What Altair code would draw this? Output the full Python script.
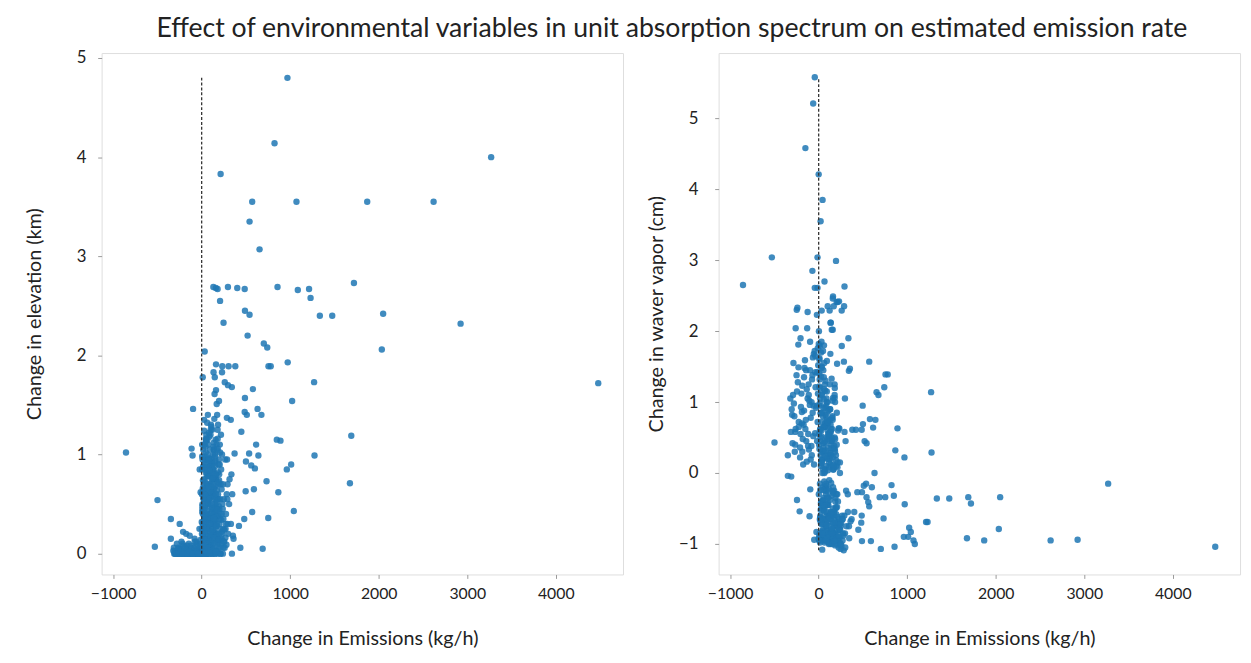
import altair as alt
import pandas as pd

# ---- points with larger emission changes ----
far_x = [4480, 3270, 2925, 2620, 2050, 2035, 1870, 1720, 1690, 1675,
         1475, 1335, 1270, 1275, 1213, 1230, 1086, 1071, 1041, 1022,
         1011, 969, 972, 962, 890, 866, 857, 849, 823, 780,
         755, 752, 741, 733, 702, 689, 675, 654, 641, 631,
         615, 601, 590, 579, 571, 571, 560, 541, 541, 536,
         519, 510, 500, 497, 489, 489, 486, 486, 481, 448,
         437, 421, 402, 380, 372, 353, 342, 341, 336, 329,
         310, 304, 297, 297, 292, 292, 287, 285, 283]
far_elev = [1.72, 4.00, 2.32, 3.55, 2.42, 2.06, 3.55, 2.73, 1.19, 0.71,
            2.40, 2.40, 1.73, 0.99, 2.67, 2.58, 2.66, 3.55, 0.43, 1.54,
            0.90, 4.80, 1.93, 0.85, 1.14, 0.62, 2.69, 1.15, 4.14, 1.89,
            1.89, 0.36, 2.08, 0.73, 2.12, 0.05, 1.40, 3.07, 0.99, 1.46,
            1.10, 0.86, 0.65, 1.66, 3.55, 0.42, 0.89, 3.35, 2.41, 1.01,
            2.20, 1.40, 0.93, 0.63, 2.45, 1.57, 2.67, 1.43, 0.35, 1.23,
            0.06, 0.28, 2.68, 1.89, 1.01, 0.18, 0.00, 1.68, 0.80, 1.35,
            0.50, 1.89, 2.69, 1.70, 0.70, 0.30, 0.95, 1.37, 0.60]
far_wv = [-1.04, -0.15, -0.94, -0.95, -0.34, -0.79, -0.95, -0.43, -0.34, -0.92,
          -0.36, -0.36, 1.14, 0.29, -0.69, -0.69, -1.00, -0.95, -0.83, -0.77,
          -0.90, 0.22, -0.44, -0.90, 0.63, 0.32, -1.04, -0.32, -0.17, 1.39,
          1.39, -0.34, 1.21, -0.64, -1.07, -0.34, 1.10, 1.14, 0.75, 0.00,
          0.64, -0.20, -0.96, 0.76, 1.57, -0.47, -0.41, 0.42, -0.34, -0.15,
          0.45, -0.18, 0.69, 0.95, -0.96, -0.27, 0.61, -0.60, -0.70, -0.80,
          -0.27, 0.61, -0.55, 0.61, -0.65, 1.47, -0.75, 1.44, 1.90, -0.30,
          -0.25, 0.45, 1.05, -0.85, 0.58, 2.63, 2.35, 1.57, -1.09]

# ---- points near the zero line and the negative side ----
mid_x = [261, 247, 233, 230, 214, 208, 180, 162, 162, 160,
         148, 146, 134, 132, 34, 12, 170, 196, 260, -97,
         -114, -103, -855, -529, -499, -348, -348, -314, -248, -228,
         -150, -62, -44, 0, 44, 22, -13, 93, -71, 66,
         -44, -13, 102, 124, 137, 159, 181, 203, 225, 49]
mid_elev = [1.73, 2.33, 1.89, 1.83, 3.83, 2.55, 2.67, 1.91, 1.65, 2.68,
            1.78, 1.61, 1.83, 2.69, 2.04, 1.78, 1.51, 1.54, 0.06, 1.46,
            1.06, 0.99, 1.02, 0.07, 0.54, 0.35, 0.15, 0.06, 0.30, 0.12,
            0.00, 0.00, 0.00, 0.05, 0.30, 0.20, 0.10, 0.80, 0.00, 0.40,
            0.02, 0.00, 1.25, 0.90, 1.05, 0.75, 0.55, 0.35, 0.65, 1.15]
mid_wv = [1.79, -1.07, 0.63, 2.42, 2.41, 1.54, 1.25, 2.49, 1.06, 2.46,
          2.02, 1.33, 2.12, 1.68, 2.29, 1.79, 2.35, 2.99, 2.29, 1.85,
          1.25, -0.61, 2.65, 3.04, 0.43, 0.25, -0.04, 0.58, 2.30, 1.49,
          4.58, 5.21, 5.58, 4.21, 3.85, 3.55, 3.04, 1.58, 2.85, 2.70,
          2.61, 2.61, 2.35, 2.29, 2.12, 2.02, 1.06, 2.41, 0.63, 1.72]

# ---- dense cluster close to zero emission change ----
dense_x = [5, 12, 18, 25, 30, 38, 45, 52, 60, 68,
           75, 82, 90, 98, 105, 112, 120, 128, 135, 142,
           150, 158, 165, 172, 180, 188, 195, 205, 215, 225,
           8, 15, 22, 28, 35, 42, 50, 58, 65, 72,
           80, 88, 95, 102, 110, 118, 125, 132, 140, 148,
           155, 162, 170, 178, 185, 192, 200, 210, 220, 235,
           3, 10, 20, 27, 33, 40, 48, 55, 62, 70,
           78, 85, 92, 100, 108, 115, 122, 130, 138, 145,
           2, 6, 14, 24, 32, 44, 56, 64, 76, 86,
           96, 106, 116, 126, 136, 146, 160, 175, 190, 245,
           250, 265, 270, 240, 230, 218, 205, 198, 185, 175,
           4, 9, 16, 21, 29, 36, 47, 59, 73, 84,
           -310, -290, -275, -260, -245, -230, -215, -200, -185, -170,
           -155, -140, -125, -110, -95, -80, -65, -50, -35, -20,
           -300, -270, -240, -205, -175, -130, -90, -55, -25, -8,
           0, 20, 40, 60, 90, 120, 150, 180, 210, 240]
dense_elev = [0.85, 0.30, 1.05, 0.55, 0.12, 0.95, 0.40, 1.20, 0.70, 0.25,
              1.10, 0.60, 0.35, 0.90, 1.30, 0.45, 0.75, 1.00, 0.20, 0.65,
              0.50, 1.15, 0.80, 0.30, 1.25, 0.55, 0.95, 0.40, 0.70, 0.15,
              0.45, 0.15, 0.70, 1.35, 0.25, 0.60, 0.90, 0.10, 1.15, 0.50,
              0.80, 0.20, 1.05, 0.40, 0.65, 1.25, 0.30, 0.85, 0.55, 1.00,
              0.35, 0.75, 1.10, 0.20, 0.60, 0.90, 0.45, 0.25, 0.85, 0.50,
              0.60, 0.95, 0.20, 0.75, 1.10, 0.35, 0.55, 0.80, 0.05, 1.40,
              0.15, 0.50, 0.70, 1.20, 0.30, 0.95, 0.60, 0.10, 1.05, 0.40,
              0.25, 1.10, 0.40, 0.05, 0.65, 0.15, 0.35, 0.95, 0.55, 0.05,
              0.15, 0.25, 0.05, 0.60, 0.30, 0.80, 0.20, 0.45, 0.10, 0.35,
              0.55, 0.95, 0.25, 0.70, 1.00, 1.20, 1.10, 0.80, 1.30, 1.40,
              0.02, 0.08, 0.18, 0.28, 0.38, 0.48, 0.58, 0.68, 0.78, 0.88,
              0.00, 0.00, 0.00, 0.05, 0.00, 0.00, 0.10, 0.00, 0.00, 0.05,
              0.00, 0.00, 0.08, 0.00, 0.00, 0.15, 0.00, 0.00, 0.05, 0.00,
              0.00, 0.02, 0.00, 0.00, 0.20, 0.00, 0.00, 0.10, 0.25, 0.00,
              0.00, 0.00, 0.00, 0.00, 0.00, 0.00, 0.00, 0.00, 0.00, 0.00]
dense_wv = [0.40, -0.85, 1.20, 0.10, -0.50, 0.85, -0.20, 1.45, 0.30, -0.95,
            0.65, -0.30, 1.00, 0.20, -0.70, 0.55, -0.10, 0.90, -1.00, 0.35,
            -0.60, 0.75, 0.05, -0.85, 0.50, -0.40, 0.25, -0.75, 0.15, -1.05,
            1.60, -0.15, 0.45, -0.90, 1.10, 0.00, -0.45, 1.35, -0.65, 0.70,
            -0.25, 1.05, -0.80, 0.60, -0.35, 0.15, 1.25, -0.55, 0.40, -0.95,
            0.80, -0.20, 0.35, -0.70, 1.00, -0.50, 0.10, -0.90, 0.60, -0.80,
            2.00, 0.95, -0.60, 1.70, 0.30, -0.95, 0.80, -0.35, 1.55, 0.05,
            -0.75, 0.50, 1.15, -0.45, 0.70, -1.00, 0.25, 0.90, -0.65, 0.45,
            -0.30, 1.40, 0.60, -0.70, 1.85, 0.20, -0.90, 0.00, 1.30, -0.55,
            -0.85, 0.35, -0.60, 0.75, -0.95, 0.50, -0.70, -0.25, -0.85, -0.90,
            -0.75, -0.60, -0.95, 0.15, -0.65, -0.40, 0.85, -1.00, 0.30, -0.55,
            0.55, -0.95, 1.05, 0.25, -0.40, 1.50, -0.80, 0.65, -0.20, 0.95,
            -0.05, 1.10, 0.80, 2.04, -0.38, 1.81, -0.54, 0.93, 1.23, 0.68,
            1.59, 0.45, 2.27, 0.33, -0.23, 1.00, 1.63, -0.94, 1.21, 2.23,
            0.82, 0.30, 2.33, 0.55, 0.12, 2.04, 0.19, 1.68, -0.83, 1.12,
            -0.92, 0.50, -1.08, 1.80, -0.60, 0.20, -0.85, 1.10, -0.70, 0.00]

# ---- more of the dense cluster ----
dense2_x = [7, 17, 26, 37, 46, 57, 67, 77, 87, 97,
            107, 117, 127, 137, 147, 157, 167, 177, 187, 197,
            11, 23, 34, 43, 53, 63, 74, 83, 94, 104,
            114, 124, 134, 144, 154, 164, 174, 184, 194, 208,
            1, 13, 19, 31, 41, 51, 61, 71, 81, 91,
            101, 111, 121, 131, 141, 151, 161, 171, 181, 222,
            228, 238, 255, 275, 290, 300, 315, 330, 345, 360,
            -15, -30, -45, -60, -75, -90, -105, -120, -135, -150,
            -165, -180, -195, -210, -225, -250, -265, -280, -295, -320,
            15, 35, 55, 75, 95, 115, 135, 155, 195, 215,
            26, 39, 52, 66, 79, 93, 109, 123, 139, 153,
            169, 183, 199, 213, 227, 243, 257, 268, 280, 9,
            28, 44, 62, 82, 99, 118, 133, 149, 166, 182,
            31, 48, 69, 88, 103, 129, 143, 163, 189, 204,
            -5, -12, -22, -38, -52, -68, -82, -112, -142, -190]
dense2_elev = [0.42, 0.88, 0.16, 0.64, 1.02, 0.28, 0.78, 0.52, 1.18, 0.08,
               0.36, 0.92, 0.58, 1.12, 0.22, 0.68, 0.44, 1.04, 0.14, 0.74,
               0.62, 0.26, 0.98, 0.46, 0.12, 0.84, 0.34, 1.22, 0.56, 0.18,
               0.72, 0.38, 1.08, 0.24, 0.94, 0.54, 0.16, 0.82, 0.48, 1.02,
               0.32, 0.66, 0.44, 0.86, 0.22, 1.14, 0.52, 0.12, 0.96, 0.36,
               0.58, 1.28, 0.14, 0.76, 0.42, 0.98, 0.28, 0.64, 1.16, 0.34,
               0.22, 0.45, 0.12, 0.40, 0.55, 0.20, 0.75, 0.30, 0.60, 0.15,
               0.00, 0.04, 0.00, 0.12, 0.00, 0.06, 0.00, 0.02, 0.18, 0.00,
               0.08, 0.00, 0.00, 0.22, 0.00, 0.05, 0.00, 0.10, 0.00, 0.03,
               0.00, 0.03, 0.00, 0.05, 0.02, 0.00, 0.04, 0.00, 0.06, 0.00,
               0.10, 0.20, 0.30, 0.15, 0.25, 0.35, 0.12, 0.22, 0.32, 0.18,
               0.28, 0.38, 0.20, 0.14, 0.10, 0.06, 0.24, 0.16, 0.09, 0.50,
               1.24, 0.72, 1.32, 0.58, 0.88, 0.46, 0.66, 0.92, 0.38, 1.06,
               0.54, 1.16, 0.26, 0.96, 0.62, 0.84, 1.36, 0.48, 0.70, 0.90,
               0.00, 0.62, 0.85, 0.00, 0.00, 0.04, 0.00, 0.00, 0.00, 0.00]
dense2_wv = [-0.88, 0.62, -0.42, 1.12, -0.72, 0.28, -0.98, 0.82, -0.18, 0.48,
             -0.62, 0.08, -0.92, 0.58, -0.32, 1.02, -0.78, 0.38, -1.02, 0.18,
             1.32, -0.52, 0.72, -0.82, 0.42, -0.12, 0.92, -0.68, 0.22, -0.88,
             0.52, -0.96, 0.12, -0.58, 0.78, -0.28, -0.86, 0.34, -0.74, -0.48,
             1.82, 0.98, -0.62, 1.48, 0.18, -0.38, 1.18, 0.02, -0.72, 0.68,
             -0.42, 0.88, -0.98, 0.28, -0.58, 0.62, -0.88, 0.08, -0.66, -0.92,
             -0.80, -0.98, -0.70, -0.85, -0.60, -1.05, -0.75, -0.55, -0.92, -0.68,
             1.42, 0.92, 1.72, 0.52, 1.32, 0.78, 1.02, 0.38, 1.18, 0.62,
             0.88, 0.48, 1.12, 0.22, 0.72, 1.38, 0.58, 0.98, 0.42, 1.05,
             -0.98, 0.18, -0.52, 0.42, -0.82, -0.22, 0.68, -0.92, -0.48, -0.62,
             0.85, -0.65, 0.35, -0.90, 0.10, -0.45, 0.55, -0.75, 0.25, -1.00,
             -0.55, -0.85, -0.30, -0.95, -0.70, -0.80, -1.02, -0.65, -0.88, 1.62,
             0.15, -0.40, 0.65, -0.15, 1.00, -0.62, 0.45, -0.82, 0.05, 1.20,
             -0.72, 0.32, -0.48, 0.78, -0.25, 0.58, -0.90, 0.12, -0.35, 0.40,
             1.52, 0.72, 0.95, 1.42, 0.12, 0.85, 0.38, 1.10, 1.45, 0.70]

dense3_x = [3, 9, 15, 21, 27, 33, 39, 45, 51, 57,
            63, 69, 75, 81, 87, 93, 99, 105, 111, 117,
            123, 129, 135, 141, 147, 153, 159, 165, 171, 177,
            -305, -285, -265, -245, -225, -205, -185, -165, -145, -125,
            -118, -98, -78, -58, -38, -18, 10, 30, 50, 70,
            90, 110, 130, 150, 170, 190, 210, 230, 250, 270,
            6, 18, 30, 42, 54, 66, 78, 90, 102, 114,
            126, 138, 150, 162, 174, 186, 198, 212, 226, 244,
            -260, -235, -210, -190, -160, -135, -100, -70, -40, -10,
            14, 26, 38, 50, 62, 74, 86, 98, 140, 160]
dense3_elev = [0.20, 0.48, 0.74, 0.32, 0.90, 0.14, 0.60, 0.38, 0.82, 0.26,
               0.66, 0.10, 0.54, 0.94, 0.30, 0.78, 0.18, 0.62, 0.42, 0.86,
               0.24, 0.70, 0.46, 0.16, 0.58, 0.34, 0.80, 0.28, 0.52, 0.12,
               0.02, 0.00, 0.06, 0.00, 0.03, 0.08, 0.00, 0.04, 0.10, 0.00,
               0.05, 0.00, 0.12, 0.02, 0.00, 0.07, 0.00, 0.02, 0.06, 0.00,
               0.04, 0.08, 0.00, 0.10, 0.03, 0.14, 0.06, 0.20, 0.12, 0.30,
               0.98, 0.56, 0.36, 1.08, 0.44, 1.00, 0.68, 0.84, 0.22, 0.50,
               0.76, 0.36, 0.88, 0.60, 0.44, 0.72, 0.30, 0.55, 0.40, 0.25,
               0.00, 0.04, 0.00, 0.06, 0.00, 0.02, 0.00, 0.08, 0.00, 0.14,
               0.04, 0.00, 0.08, 0.02, 0.00, 0.06, 0.00, 0.03, 0.05, 0.02]
dense3_wv = [-0.94, 0.34, -0.64, 0.84, -0.44, 0.14, -0.84, 0.64, -0.24, 1.04,
             -0.54, 0.44, -0.94, 0.24, -0.74, 0.74, -0.34, 0.04, -0.86, 0.54,
             -0.64, 0.28, -0.96, -0.14, -0.80, 0.46, -0.50, -0.90, 0.10, -0.70,
             0.90, 1.55, 0.40, 1.15, 0.65, 1.90, 0.30, 1.35, 0.75, 1.05,
             0.55, 1.45, 0.25, 0.95, 1.65, 0.45, -0.95, 0.60, -0.40, 1.25,
             -0.90, -0.45, 0.20, -0.85, -0.60, -0.95, -0.30, -0.78, -1.00, -0.65,
             1.22, -0.24, 0.52, -0.64, 0.92, -0.84, 0.32, -0.44, 0.72, -0.98,
             -0.38, 0.62, -0.78, 0.22, -0.96, 0.48, -0.58, 0.08, -0.88, -0.72,
             0.62, 1.28, 0.36, 0.86, 1.48, 0.16, 0.96, 1.38, 0.56, 1.76,
             -0.66, 1.36, -0.86, 0.06, -0.46, 1.16, -0.96, 0.86, -0.56, -0.26]

x_ticks = [-1000, 0, 1000, 2000, 3000, 4000]
elev_ticks = [0, 1, 2, 3, 4, 5]
wv_ticks = [-1, 0, 1, 2, 3, 4, 5]

title_text = "Effect of environmental variables in unit absorption spectrum on estimated emission rate"
x_title = "Change in Emissions (kg/h)"
elev_title = "Change in elevation (km)"
wv_title = "Change in waver vapor (cm)"

emission = far_x + mid_x + dense_x + dense2_x + dense3_x
elevation = far_elev + mid_elev + dense_elev + dense2_elev + dense3_elev
water_vapor = far_wv + mid_wv + dense_wv + dense2_wv + dense3_wv
assert len(emission) == len(elevation) == len(water_vapor)

df = pd.DataFrame({"emission": emission, "elev": elevation, "wv": water_vapor})

FONT = "Lato"
BLUE = "#1f77b4"
TXT = "#222222"

x_scale = alt.Scale(domain=[-1130, 4760], nice=False, zero=False)


def x_axis():
    return alt.Axis(values=x_ticks, format="d", title=x_title, grid=False, domain=False,
                    tickSize=4, tickColor="#999999", labelFontSize=16, labelPadding=7,
                    labelColor=TXT, titleFontSize=20, titlePadding=28, titleColor=TXT,
                    titleFontWeight="normal", labelFont=FONT, titleFont=FONT)


def panel(field, title, domain, ticks, label_pad, title_pad):
    y_axis = alt.Axis(values=ticks, format="d", title=title, grid=False, domain=False,
                      tickSize=4, tickColor="#999999", labelFontSize=17, labelPadding=label_pad,
                      labelColor=TXT, titleFontSize=20, titlePadding=title_pad, titleColor=TXT,
                      titleFontWeight="normal", labelFont=FONT, titleFont=FONT)
    y_scale = alt.Scale(domain=domain, nice=False, zero=False)
    base = alt.Chart(df)
    pts = base.mark_circle(size=42, opacity=0.85, color=BLUE).encode(
        x=alt.X("emission:Q", scale=x_scale, axis=x_axis()),
        y=alt.Y(f"{field}:Q", scale=y_scale, axis=y_axis),
    )
    rule = base.mark_rule(color="#333333", strokeDash=[3, 2], strokeWidth=1.3).encode(
        x=alt.datum(0),
        y=alt.Y(f"min({field}):Q", title=title),
        y2=alt.Y2(f"max({field}):Q"),
    )
    return alt.layer(pts, rule).properties(width=529, height=529)


left = panel("elev", elev_title, [-0.21, 5.05], elev_ticks, 12, 32)
right = panel("wv", wv_title, [-1.43, 5.92], wv_ticks, 17, 12)

chart = (
    alt.hconcat(left, right, spacing=22)
    .properties(
        title=alt.TitleParams(title_text, fontSize=27, font=FONT, fontWeight="normal",
                              color=TXT, anchor="middle", dx=40, offset=6),
        padding={"left": 16, "top": 2, "right": 2, "bottom": 2},
    )
    .configure_view(stroke="#aaaaaa", strokeWidth=2)
    .configure(font=FONT, background="white")
)

chart.save("out.html", embed_options={"renderer": "svg", "actions": False})
